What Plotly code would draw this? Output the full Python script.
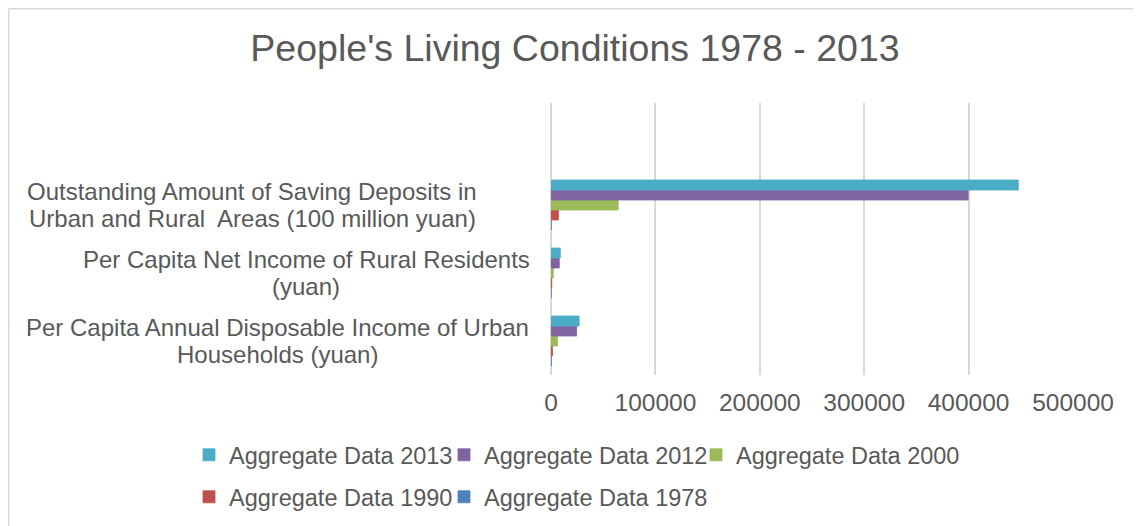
import plotly.graph_objects as go

categories = [
    "Per Capita Annual Disposable Income of Urban<br>Households (yuan)",
    "Per Capita Net Income of Rural Residents<br>(yuan)",
    "Outstanding Amount of Saving Deposits in<br>Urban and Rural  Areas (100 million yuan)",
]
cat_keys = ["urban", "rural", "savings"]

series_names = ["Aggregate Data 1978", "Aggregate Data 1990", "Aggregate Data 2000",
                "Aggregate Data 2012", "Aggregate Data 2013"]
values_1978 = [343.4, 133.6, 210.6]
values_1990 = [1510.2, 686.3, 7119.6]
values_2000 = [6280.0, 2253.4, 64332.4]
values_2012 = [24565.0, 7917.0, 399551.0]
values_2013 = [26955.0, 8896.0, 447602.0]
series_values = [values_1978, values_1990, values_2000, values_2012, values_2013]
colors = ["#4F81BD", "#C0504D", "#9BBB59", "#8064A2", "#4BACC6"]

x_ticks = [0, 100000, 200000, 300000, 400000, 500000]

# page body margin in the browser (figure is drawn 8px right/down)
OFF = 8
W, H = 1141, 526
L, R, T, B = 543, 76, 95, 159
pw, ph = W - L - R, H - T - B

def px_x(screen_x):
    return (screen_x - OFF - L) / pw

def px_y(screen_y):
    return (H - B - (screen_y - OFF)) / ph

text_color = "#595959"
font_family = "Liberation Sans, Arial, sans-serif"

# legend placement (screen px of text start, row centre), one legend per series
legend_slots = {
    "Aggregate Data 2013": (229, 455),
    "Aggregate Data 2012": (484, 455),
    "Aggregate Data 2000": (736, 455),
    "Aggregate Data 1990": (229, 497),
    "Aggregate Data 1978": (484, 497),
}
legend_order = ["Aggregate Data 2013", "Aggregate Data 2012", "Aggregate Data 2000",
                "Aggregate Data 1990", "Aggregate Data 1978"]
legend_key = {n: ("legend" if i == 0 else f"legend{i + 1}") for i, n in enumerate(legend_order)}

fig = go.Figure()
for name, vals, col in zip(series_names, series_values, colors):
    fig.add_trace(go.Bar(
        y=cat_keys, x=vals, name=name, orientation="h",
        marker=dict(color=col, line=dict(color=col, width=0.8)),
        legend=legend_key[name],
    ))

# category labels (centered multi-line, like the original)
label_centers = [277, 306, 252]
line_half_gap = 13.5
annotations = []
for key, text, cx in zip(cat_keys, categories, label_centers):
    lines = text.split("<br>")
    for i, ln in enumerate(lines):
        shift = line_half_gap * (len(lines) - 1 - 2 * i)
        annotations.append(dict(
            x=px_x(cx), xref="paper", y=key, yref="y", yshift=shift,
            text=ln, showarrow=False,
            xanchor="center", yanchor="middle", align="center",
            font=dict(family=font_family, size=24, color=text_color),
        ))

shapes = [
    dict(type="line", xref="paper", yref="paper", x0=px_x(8.75), x1=px_x(8.75),
         y0=px_y(8.75), y1=px_y(560), line=dict(color="#D9D9D9", width=1.5)),
    dict(type="line", xref="paper", yref="paper", x0=px_x(8.75), x1=px_x(1160),
         y0=px_y(8.75), y1=px_y(8.75), line=dict(color="#D9D9D9", width=1.5)),
]

legend_font = dict(family=font_family, size=23.5, color=text_color)
legends = {}
for name in legend_order:
    tx, ty = legend_slots[name]
    legends[legend_key[name]] = dict(
        orientation="h", x=px_x(tx - 40), xanchor="left",
        y=px_y(ty), yanchor="middle", itemwidth=30,
        font=legend_font, bgcolor="rgba(0,0,0,0)",
    )

fig.update_layout(
    width=W, height=H,
    margin=dict(l=L, r=R, t=T, b=B, pad=0, autoexpand=False),
    paper_bgcolor="white", plot_bgcolor="white",
    barmode="group", bargap=0.265, bargroupgap=0,
    title=dict(text="People's Living Conditions 1978 - 2013", x=(575 - OFF) / W, xanchor="center",
               y=1 - (48 - OFF) / H, yanchor="middle", yref="container",
               font=dict(family=font_family, size=37.5, color=text_color)),
    font=dict(family=font_family, color=text_color),
    xaxis=dict(range=[0, 500000], tickvals=x_ticks, tickformat="d",
               showgrid=True, gridcolor="#D9D9D9", gridwidth=1.5,
               zeroline=True, zerolinecolor="#D9D9D9", zerolinewidth=1.5,
               showline=False, ticks="", ticklabelstandoff=10,
               tickfont=dict(family=font_family, size=24.5, color=text_color)),
    yaxis=dict(type="category", categoryarray=cat_keys, range=[-0.5, 3.5],
               showticklabels=False, showgrid=False, zeroline=False, ticks=""),
    annotations=annotations,
    shapes=shapes,
    showlegend=True,
    **legends,
)

fig.write_html("out.html")
